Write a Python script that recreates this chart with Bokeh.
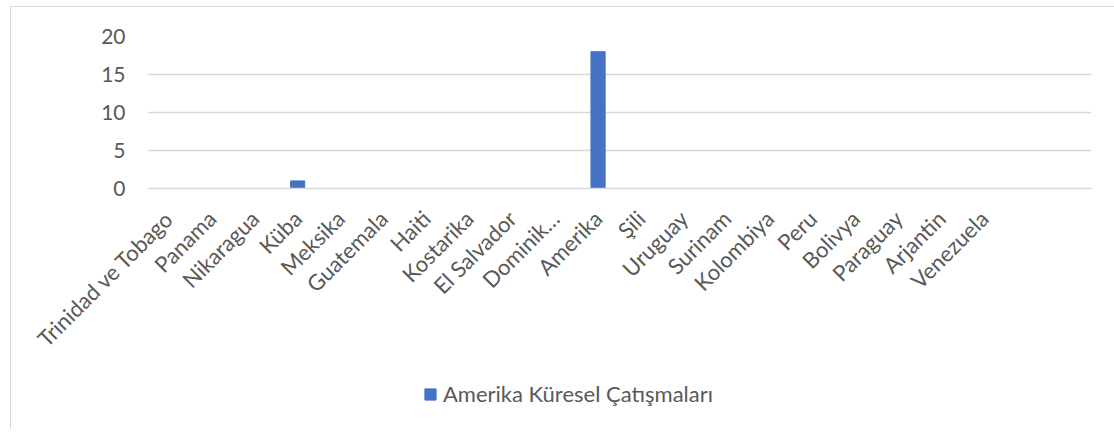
import math
from bokeh.plotting import figure
from bokeh.layouts import column
from bokeh.models import FactorRange, Range1d, Legend, LegendItem, ColumnDataSource, FixedTicker
from bokeh.embed import file_html
from bokeh.resources import INLINE

categories = ["Trinidad ve Tobago", "Panama", "Nikaragua", "Küba", "Meksika",
              "Guatemala", "Haiti", "Kostarika", "El Salvador", "Dominik…",
              "Amerika", "Şili", "Uruguay", "Surinam", "Kolombiya", "Peru",
              "Bolivya", "Paraguay", "Arjantin", "Venezuela"]
values = [0, 0, 0, 1, 0, 0, 0, 0, 0, 0, 18, 0, 0, 0, 0, 0, 0, 0, 0, 0]
blank_slots = [" ", "  "]
series_name = "Amerika Küresel Çatışmaları"
y_ticks = [0, 5, 10, 15, 20]

FONT = "Lato"
TXT = "#595959"
GRID = "#d9d9d9"
BLUE = "#4472C4"

src = ColumnDataSource(dict(cat=categories, val=values))

p = figure(width=1104, height=372, output_backend="svg", toolbar_location=None,
           x_range=FactorRange(factors=categories + blank_slots, range_padding=0),
           y_range=Range1d(0, 20))
p.min_border_left = 136
p.min_border_right = 24
p.min_border_top = 29
p.min_border_bottom = 191
p.outline_line_color = None
p.background_fill_color = "white"
p.border_fill_color = "white"

r = p.vbar(x="cat", top="val", width=0.33, source=src, fill_color=BLUE, line_color=BLUE)

p.xgrid.grid_line_color = None
p.ygrid.grid_line_color = GRID
p.ygrid.grid_line_width = 1.3
p.yaxis.ticker = FixedTicker(ticks=y_ticks)

p.yaxis.axis_line_color = None
p.yaxis.major_tick_line_color = None
p.yaxis.minor_tick_line_color = None
p.yaxis.major_label_text_font = FONT
p.yaxis.major_label_text_font_size = "21px"
p.yaxis.major_label_text_color = TXT
p.yaxis.major_label_standoff = 16

p.xaxis.axis_line_color = GRID
p.xaxis.axis_line_width = 1.3
p.xaxis.major_tick_line_color = None
p.xaxis.minor_tick_line_color = None
p.xaxis.major_label_orientation = math.pi / 4
p.xaxis.major_label_text_font = FONT
p.xaxis.major_label_text_font_size = "22px"
p.xaxis.major_label_text_color = TXT
p.xaxis.major_label_standoff = 20

# legend strip below the chart (frames are aligned with the chart above)
leg = figure(width=1104, height=50, output_backend="svg", toolbar_location=None,
             x_range=Range1d(0, 1), y_range=Range1d(10, 11),
             x_axis_type=None, y_axis_type=None)
leg.min_border = 0
leg.outline_line_color = None
leg.xgrid.visible = False
leg.ygrid.visible = False
leg.background_fill_color = "white"
leg.border_fill_color = "white"
dummy = leg.vbar(x=[-5], top=[1], width=0.33, fill_color=BLUE, line_color=BLUE)
dummy.visible = False

legend = Legend(items=[LegendItem(label=series_name, renderers=[dummy])],
                location=(276, 22), orientation="horizontal")
legend.glyph_width = 14
legend.glyph_height = 14
legend.label_height = 20
legend.label_standoff = 6
legend.padding = 0
legend.margin = 0
legend.spacing = 0
legend.border_line_color = None
legend.background_fill_alpha = 0
legend.label_text_font = FONT
legend.label_text_font_size = "22px"
legend.label_text_color = TXT
leg.add_layout(legend, "center")

layout = column(p, leg, spacing=0,
                styles={"border-top": "1px solid #d9d9d9",
                        "border-left": "1px solid #d9d9d9",
                        "margin": "6px 0px 0px 10px"})

open("out.html", "w").write(file_html(layout, INLINE))
